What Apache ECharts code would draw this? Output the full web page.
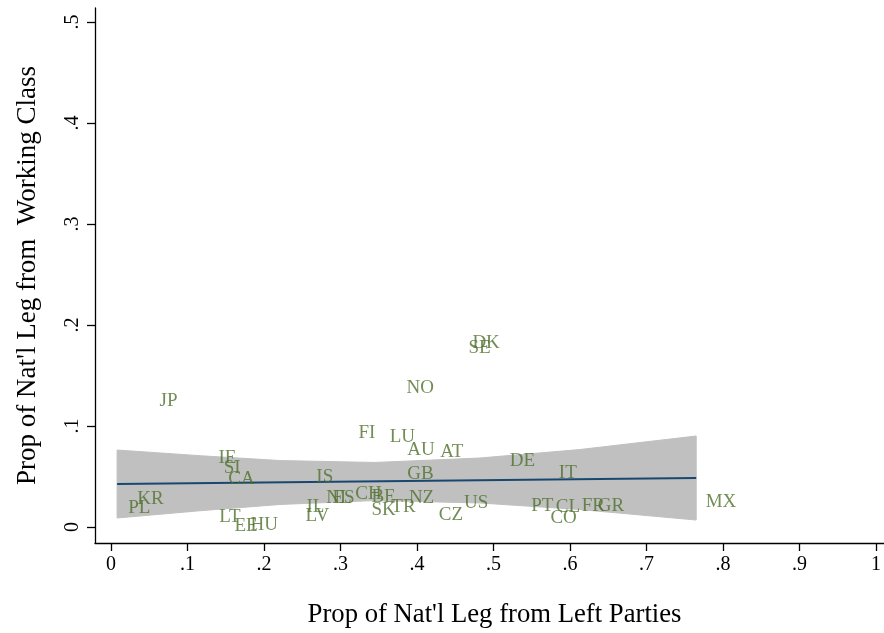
<!DOCTYPE html>
<html>
<head>
<meta charset="utf-8">
<script src="https://cdn.jsdelivr.net/npm/echarts@6/dist/echarts.min.js"></script>
<style>html,body{margin:0;padding:0;background:#fff}#c{width:884px;height:633px}</style>
</head>
<body>
<div id="c"></div>
<script>
// Country labels and their positions (x: left-party share, y: working-class share)
var countries = ['JP','IE','SI','CA','KR','PL','LT','EE','HU','FI','LU','AU','IS','GB','NL','ES','CH','BE','IL','LV','SK','TR','NZ','AT','DE','IT','CZ','US','PT','CL','CO','FR','GR','MX','DK','SE','NO'];
var xValues = [0.051,0.128,0.135,0.141,0.022,0.010,0.129,0.149,0.170,0.311,0.352,0.375,0.256,0.375,0.269,0.277,0.307,0.328,0.243,0.242,0.328,0.354,0.377,0.418,0.509,0.573,0.416,0.449,0.537,0.569,0.562,0.603,0.624,0.765,0.460,0.455,0.374];
var yValues = [0.1248,0.0683,0.0584,0.0475,0.0277,0.0188,0.0099,0.0010,0.0020,0.0930,0.0890,0.0760,0.0495,0.0525,0.0287,0.0287,0.0327,0.0297,0.0198,0.0109,0.0168,0.0198,0.0287,0.0743,0.0653,0.0535,0.0119,0.0238,0.0208,0.0198,0.0089,0.0208,0.0208,0.0248,0.1820,0.1770,0.1376];

// Fitted line and confidence band
var fitX = [0.008, 0.765];
var fitY = [0.0426, 0.0485];
var ciX  = [0.008, 0.1163, 0.221, 0.345, 0.482, 0.613, 0.765];
var ciHi = [0.0762, 0.0706, 0.0658, 0.0639, 0.0683, 0.0767, 0.0901];
var ciLo = [0.0089, 0.0161, 0.0223, 0.0262, 0.0238, 0.0173, 0.0069];

// Tick values
var xTicks = [0,0.1,0.2,0.3,0.4,0.5,0.6,0.7,0.8,0.9,1];
var yTicks = [0,0.1,0.2,0.3,0.4,0.5];

function fmt(v){ if (v === 0) return '0'; if (v === 1) return '1'; return String(v).replace(/^0\./,'.'); }

var font = 'Liberation Serif, Times New Roman, serif';
var chart = echarts.init(document.getElementById('c'), null, {renderer:'canvas'});
var scatterData = countries.map(function(c,i){ return {name:c, value:[xValues[i], yValues[i]]}; });
var fitData = fitX.map(function(x,i){ return [x, fitY[i]]; });

chart.setOption({
  animation:false,
  backgroundColor:'#fff',
  grid:{left:95, right:0, top:8, bottom:90, containLabel:false},
  xAxis:{
    type:'value', min:-0.0209, max:1.0105,
    name:'Prop of Nat\'l Leg from Left Parties', nameLocation:'middle', nameGap:58,
    nameTextStyle:{fontFamily:font, fontSize:26.7, color:'#000', padding:[0,0,0,10]},
    axisLine:{show:true, onZero:false, lineStyle:{color:'#000', width:1.3}},
    axisTick:{show:true, length:8, customValues:xTicks, lineStyle:{color:'#000', width:1.3}},
    axisLabel:{customValues:xTicks, formatter:fmt, fontFamily:font, fontSize:20, color:'#000', margin:12},
    splitLine:{show:false}
  },
  yAxis:{
    type:'value', min:-0.01584, max:0.5139,
    name:'Prop of Nat\'l Leg from  Working Class', nameLocation:'middle', nameGap:54, nameRotate:90,
    nameTextStyle:{fontFamily:font, fontSize:27, color:'#000'},
    axisLine:{show:true, onZero:false, lineStyle:{color:'#000', width:1.3}},
    axisTick:{show:true, length:8, customValues:yTicks, lineStyle:{color:'#000', width:1.3}},
    axisLabel:{customValues:yTicks, formatter:fmt, rotate:90, fontFamily:font, fontSize:20, color:'#000', margin:12},
    splitLine:{show:false}
  },
  series:[
    {
      type:'custom', z:1, silent:true,
      data:[[0,0]],
      renderItem:function(params, api){
        var pts = [];
        for (var i=0;i<ciX.length;i++) pts.push(api.coord([ciX[i], ciHi[i]]));
        for (var j=ciX.length-1;j>=0;j--) pts.push(api.coord([ciX[j], ciLo[j]]));
        return {type:'polygon', shape:{points:pts}, style:{fill:'#c0c0c0', stroke:'#c0c0c0', lineWidth:1}};
      }
    },
    {
      type:'line', z:2, data:fitData, symbol:'none', silent:true,
      lineStyle:{color:'#1a476f', width:2.2}
    },
    {
      type:'scatter', z:3, data:scatterData, symbolSize:1, itemStyle:{color:'rgba(0,0,0,0)'},
      label:{show:true, position:'right', distance:9, formatter:'{b}', fontFamily:font, fontSize:19, color:'#4f6f2b'},
      labelLayout:{hideOverlap:false}
    }
  ]
});
</script>
</body>
</html>
